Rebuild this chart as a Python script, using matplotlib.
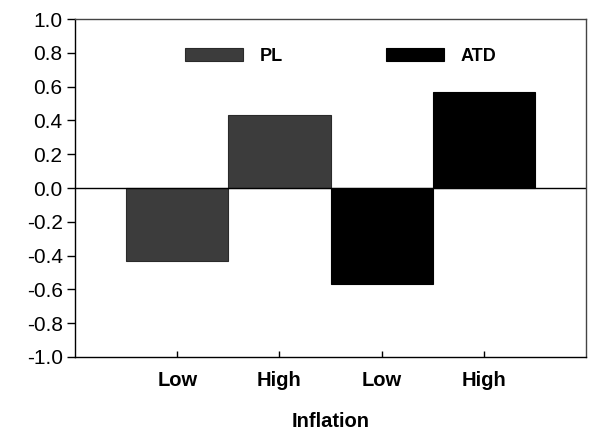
import matplotlib
matplotlib.use("Agg")
import matplotlib.pyplot as plt

plt.rcParams['font.family'] = ['Liberation Sans', 'DejaVu Sans']

groups = ['PL', 'PL', 'ATD', 'ATD']
tick_labels = ['Low', 'High', 'Low', 'High']
pl_values = [-0.43, 0.43]
atd_values = [-0.57, 0.57]
y_ticks = [-1.0, -0.8, -0.6, -0.4, -0.2, 0.0, 0.2, 0.4, 0.6, 0.8, 1.0]

fig = plt.figure(figsize=(6.01, 4.44), dpi=100)
ax = fig.add_axes([0.125, 0.196, 0.85, 0.761])

# bars touch each other, width 1
pl_bars = ax.bar([0, 1], pl_values, width=1.0, color='#3c3c3c',
                 edgecolor='#2a2a2a', linewidth=0.8, label='PL')
atd_bars = ax.bar([2, 3], atd_values, width=1.0, color='#000000',
                  edgecolor='#000000', linewidth=0.8, label='ATD')

ax.axhline(0, color='black', linewidth=1.0)

ax.set_xlim(-1.0, 4.0)
ax.set_ylim(-1.0, 1.0)
ax.set_yticks(y_ticks)
ax.set_yticklabels(['%.1f' % v for v in y_ticks], fontsize=15)
ax.set_xticks(range(len(tick_labels)))
ax.set_xticklabels(tick_labels, fontsize=14.5, fontweight='bold')

ax.tick_params(axis='y', direction='out', length=6, width=1, pad=3)
ax.tick_params(axis='x', direction='in', length=4, width=1, pad=10)

for s in ax.spines.values():
    s.set_linewidth(1.0)
ax.spines['top'].set_color('#444444')
ax.spines['right'].set_color('#444444')

ax.set_xlabel('Inflation', fontsize=14.5, fontweight='bold', labelpad=16)

leg = ax.legend(handles=[pl_bars, atd_bars], ncol=2, frameon=False,
                loc='center', bbox_to_anchor=(0.52, 0.89),
                handlelength=3.2, handletextpad=0.95, columnspacing=5.7,
                prop={'size': 13, 'weight': 'bold'})

fig.savefig('out.png', dpi=100)
